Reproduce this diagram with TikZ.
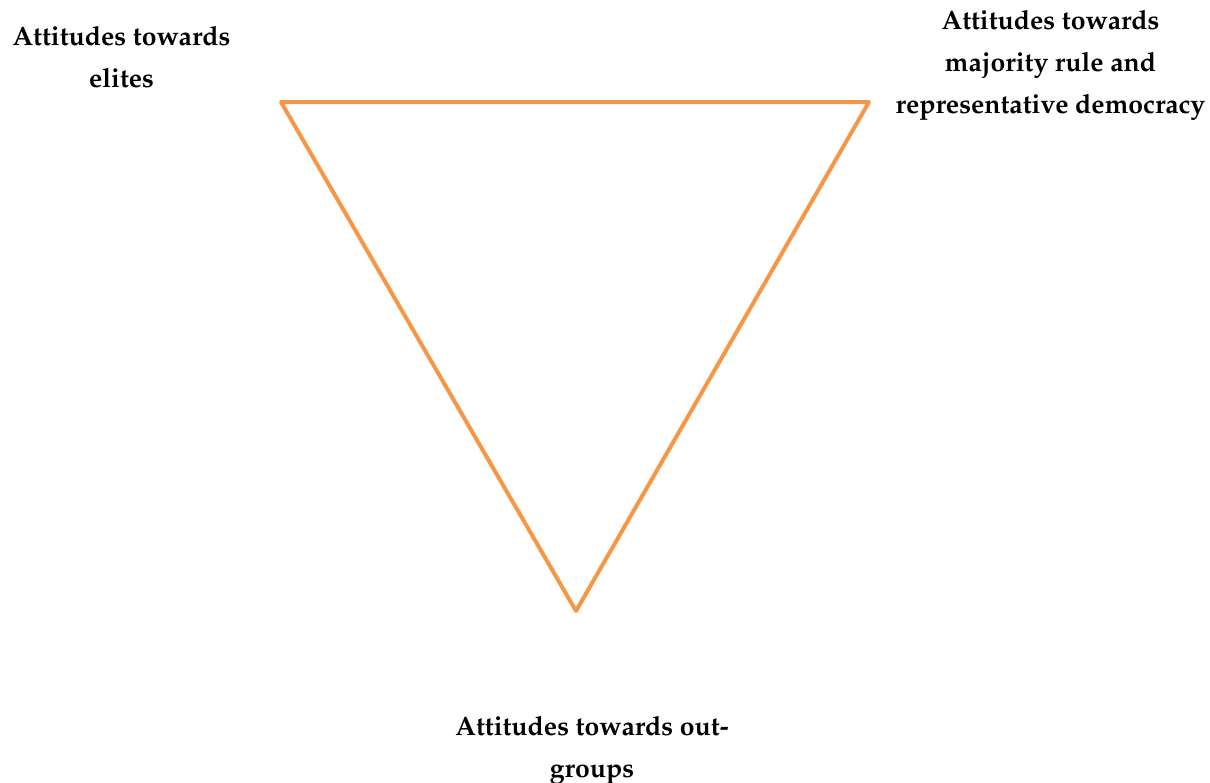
\documentclass[tikz,border=0pt]{standalone}
\usepackage[T1]{fontenc}
\usepackage{mathpazo}
\definecolor{triorange}{HTML}{F79646}
\begin{document}
\begin{tikzpicture}[x=1pt,y=-1pt,
  lbl/.style={align=center,font=\fontsize{26.6}{42}\selectfont\bfseries,inner sep=0pt},
  edge/.style={draw=triorange,line width=4pt,line join=round,line cap=round}]
\useasboundingbox (0,0) rectangle (1210,782);
\coordinate (tl) at (281,102);
\coordinate (tr) at (869,102);
\coordinate (bt) at (576,611);
\draw[edge] (tl) -- (tr) -- (bt) -- cycle;
\node[lbl] (elites) at (121.5,57) {Attitudes towards\\elites};
\node[lbl] (major) at (1050.5,65) {Attitudes towards\\majority rule and\\representative democracy};
\node[lbl] (out) at (592,750) {Attitudes towards out-\\groups};
\end{tikzpicture}
\end{document}
